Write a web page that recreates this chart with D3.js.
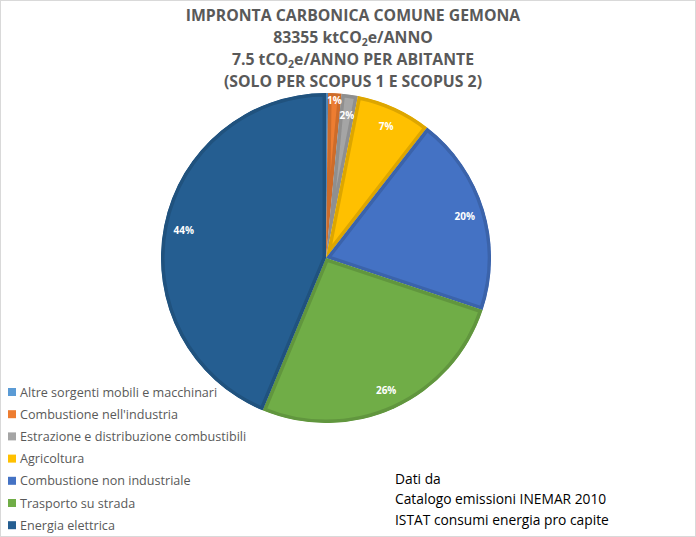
<!DOCTYPE html>
<html>
<head>
<meta charset="utf-8">
<script src="https://cdn.jsdelivr.net/npm/d3@7"></script>
<style>
  html, body { margin: 0; padding: 0; background: #fff; }
  svg { display: block; }
</style>
</head>
<body>
<svg id="chart" width="696" height="537"></svg>
<script>
// ---- data ----
const categories = [
  "Altre sorgenti mobili e macchinari",
  "Combustione nell'industria",
  "Estrazione e distribuzione combustibili",
  "Agricoltura",
  "Combustione non industriale",
  "Trasporto su strada",
  "Energia elettrica"
];
const values = [170, 1080, 1330, 6170, 16350, 21800, 36450]; // ktCO2e (estimated)
const colors = ["#5B9BD5", "#ED7D31", "#A5A5A5", "#FFC000", "#4472C4", "#70AD47", "#255E91"];
const titleLines = [
  [["IMPRONTA CARBONICA COMUNE GEMONA", false]],
  [["83355 ktCO", false], ["2", true], ["e/ANNO", false]],
  [["7.5 tCO", false], ["2", true], ["e/ANNO PER ABITANTE", false]],
  [["(SOLO PER SCOPUS 1 E SCOPUS 2)", false]]
];
const noteLines = ["Dati da", "Catalogo emissioni INEMAR 2010", "ISTAT consumi energia pro capite"];

// ---- drawing ----
const svg = d3.select("#chart");
const W = 696, H = 537;
svg.append("rect").attr("x", 0.5).attr("y", 0.5).attr("width", W - 1).attr("height", H - 1)
  .attr("fill", "#fff").attr("stroke", "#d9d9d9");

const cx = 326, cy = 258, R = 165;
const total = d3.sum(values);
const data = categories.map((c, i) => ({ cat: c, value: values[i], color: colors[i], i }));
const pie = d3.pie().value(d => d.value).sort(null);
const arcs = pie(data);
const arc = d3.arc().innerRadius(0).outerRadius(R);

const g = svg.append("g").attr("transform", `translate(${cx},${cy})`);
const defs = svg.append("defs");
arcs.forEach((a, k) => {
  defs.append("clipPath").attr("id", "clip" + k).append("path").attr("d", arc(a));
});
g.selectAll("path.slice").data(arcs).join("path")
  .attr("class", "slice")
  .attr("d", arc)
  .attr("fill", d => d.data.color)
  .attr("stroke", d => d3.color(d.data.color).darker(0.4))
  .attr("stroke-width", 7)
  .attr("stroke-linejoin", "round")
  .attr("clip-path", (d, k) => `url(#clip${k})`);

// labels
const fmt = v => Math.round(v / total * 100);
g.selectAll("text.lbl").data(arcs.filter(a => fmt(a.data.value) >= 1)).join("text")
  .attr("class", "lbl")
  .attr("transform", d => {
    const pct = fmt(d.data.value);
    const r = pct <= 1 ? 158 : 145;
    const ang = (d.startAngle + d.endAngle) / 2;
    return `translate(${Math.sin(ang) * r},${-Math.cos(ang) * r})`;
  })
  .attr("text-anchor", "middle")
  .attr("dominant-baseline", "central")
  .attr("font-family", "'Open Sans', sans-serif")
  .attr("font-size", 10)
  .attr("font-weight", "bold")
  .attr("fill", "#fff")
  .text(d => fmt(d.data.value) + "%");

// title
titleLines.forEach((parts, li) => {
  const t = svg.append("text")
    .attr("x", 353).attr("y", 21 + li * 22)
    .attr("font-family", "'Open Sans', sans-serif")
    .attr("font-weight", "bold")
    .attr("font-size", 15.8)
    .attr("fill", "#595959")
    .attr("text-anchor", "middle");
  parts.forEach(([s, sub]) => {
    const ts = t.append("tspan").text(s);
    if (sub) ts.attr("font-size", 10.5).attr("baseline-shift", "-3");
  });
});

// legend
const leg = svg.append("g");
data.forEach((d, i) => {
  const y = 392 + i * 22.2;
  leg.append("rect").attr("x", 8).attr("y", y - 4).attr("width", 8).attr("height", 8).attr("fill", d.color);
  leg.append("text").attr("x", 20).attr("y", y)
    .attr("dominant-baseline", "central")
    .attr("font-family", "'Open Sans', sans-serif")
    .attr("font-size", 12.6)
    .attr("fill", "#595959")
    .text(d.cat);
});

// note
noteLines.forEach((s, i) => {
  svg.append("text").attr("x", 395).attr("y", 478 + i * 20.5)
    .attr("dominant-baseline", "central")
    .attr("font-family", "'Open Sans', sans-serif")
    .attr("font-size", 13.8)
    .attr("fill", "#000")
    .text(s);
});
</script>
</body>
</html>
